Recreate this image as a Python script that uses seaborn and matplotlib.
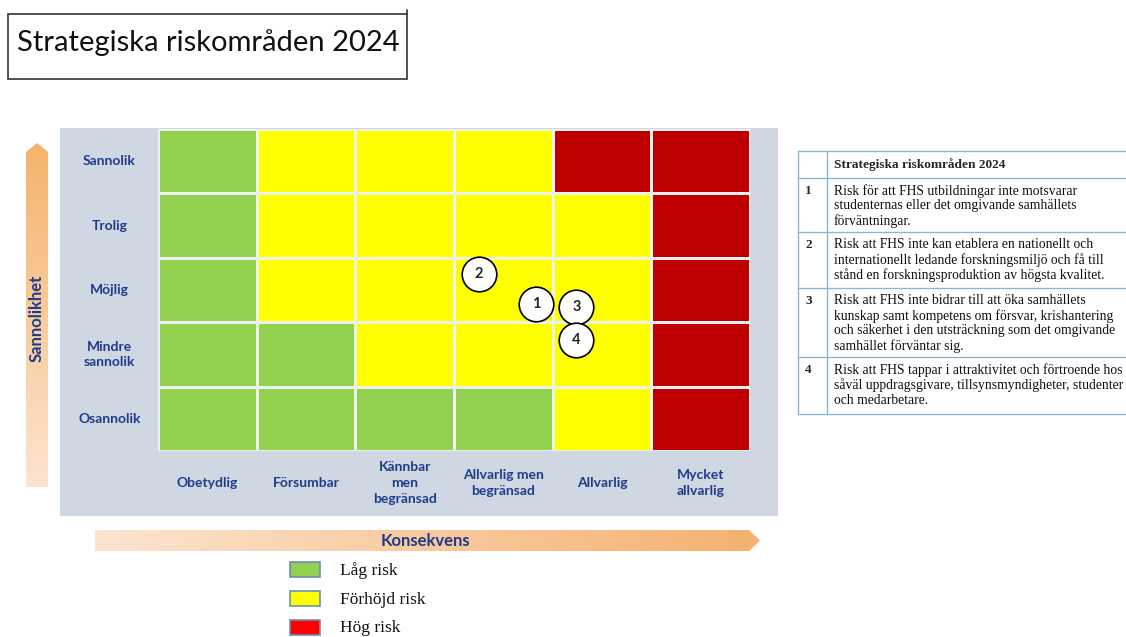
import numpy as np
import pandas as pd
import seaborn as sns
import matplotlib.pyplot as plt
from matplotlib.colors import ListedColormap
from matplotlib.patches import Rectangle, Polygon

# Risk matrix data
likelihood = ["Sannolik", "Trolig", "Möjlig", "Mindre\nsannolik", "Osannolik"]
consequence = ["Obetydlig", "Försumbar", "Kännbar\nmen\nbegränsad",
               "Allvarlig men\nbegränsad", "Allvarlig", "Mycket\nallvarlig"]
# 0 = låg, 1 = förhöjd, 2 = hög
level_rows = [
    [0, 1, 1, 1, 2, 2],
    [0, 1, 1, 1, 1, 2],
    [0, 1, 1, 1, 1, 2],
    [0, 0, 1, 1, 1, 2],
    [0, 0, 0, 0, 1, 2],
]
risk_ids = ["1", "2", "3", "4"]
risk_x = [3.83, 3.25, 4.24, 4.24]   # consequence position (cells)
risk_y = [2.72, 2.25, 2.76, 3.28]   # likelihood position (cells from top)

legend_labels = ["Låg risk", "Förhöjd risk", "Hög risk"]
table_title = "Strategiska riskområden 2024"
table_rows = [
    "Risk för att FHS utbildningar inte motsvarar\nstudenternas eller det omgivande samhällets\nförväntningar.",
    "Risk att FHS inte kan etablera en nationellt och\ninternationellt ledande forskningsmiljö och få till\nstånd en forskningsproduktion av högsta kvalitet.",
    "Risk att FHS inte bidrar till att öka samhällets\nkunskap samt kompetens om försvar, krishantering\noch säkerhet i den utsträckning som det omgivande\nsamhället förväntar sig.",
    "Risk att FHS tappar i attraktivitet och förtroende hos\nsåväl uppdragsgivare, tillsynsmyndigheter, studenter\noch medarbetare.",
]

level_colors = ["#92D050", "#FFFF00", "#C00000"]
legend_colors = ["#92D050", "#FFFF00", "#FF0000"]
navy = "#1F3C8C"
serif = ["Liberation Serif", "DejaVu Serif"]

sns.set_style("white")
plt.rcParams["font.family"] = ["Lato", "DejaVu Sans"]

W, H = 1126, 637
fig = plt.figure(figsize=(W / 100, H / 100), dpi=100)

# background canvas in pixel coordinates
bg = fig.add_axes([0, 0, 1, 1], zorder=0)
bg.set_axis_off()

# title box
bg.add_patch(Rectangle((8, 14), 399, 65, fill=False, ec="#333333", lw=1.2))
bg.plot([407, 407], [10, 14], color="#333333", lw=1.2)
bg.text(17, 42.5, "Strategiska riskområden 2024", fontsize=21, va="center", ha="left",
        color="#111111")

# panel behind matrix
bg.add_patch(Rectangle((60, 128), 718, 388, color="#CED7E2", ec="none"))

# vertical gradient arrow
vgrad = np.linspace(0, 1, 256).reshape(-1, 1)
vcmap = ListedColormap(sns.blend_palette(["#F4B36B", "#FCE4CF"], 256))
im = bg.imshow(vgrad, cmap=vcmap, extent=(26, 48, 487, 143), aspect="auto", zorder=1)
vpoly = Polygon([(26, 487), (26, 152), (37, 143), (48, 152), (48, 487)],
                closed=True, fc="none", ec="none")
bg.add_patch(vpoly)
im.set_clip_path(vpoly)
bg.text(37, 318, "Sannolikhet", rotation=90, ha="center", va="center",
        fontsize=12, fontweight="bold", color=navy, zorder=2)

# horizontal gradient arrow
hgrad = np.linspace(0, 1, 256).reshape(1, -1)
hcmap = ListedColormap(sns.blend_palette(["#FCE4CF", "#F4B16F"], 256))
im2 = bg.imshow(hgrad, cmap=hcmap, extent=(95, 760, 551, 530), aspect="auto", zorder=1)
hpoly = Polygon([(95, 530), (749, 530), (760, 540.5), (749, 551), (95, 551)],
                closed=True, fc="none", ec="none")
bg.add_patch(hpoly)
im2.set_clip_path(hpoly)
bg.text(425, 541, "Konsekvens", ha="center", va="center", fontsize=12,
        fontweight="bold", color=navy, zorder=2)

# legend
for i, (lab, col) in enumerate(zip(legend_labels, legend_colors)):
    y0 = 562 + i * 29
    bg.add_patch(Rectangle((290, y0), 30, 15, fc=col, ec="#6F8FB5", lw=1.2))
    bg.text(340, y0 + 8.5, lab, ha="left", va="center", fontsize=12.5,
            family=serif, color="#111111")

# table on the right
row_edges = [151, 178, 232, 288, 357, 414]
line_col = "#8DB8CC"
for yy in row_edges:
    bg.plot([798, W], [yy, yy], color=line_col, lw=1)
for xx in [798, 827]:
    bg.plot([xx, xx], [row_edges[0], row_edges[-1]], color=line_col, lw=1)
bg.text(834, 165, table_title, ha="left", va="center", fontsize=9.6,
        fontweight="bold", family=serif)
for i, txt in enumerate(table_rows):
    top = row_edges[i + 1]
    bg.text(805, top + 13, risk_ids[i], ha="left", va="center", fontsize=9.6,
            fontweight="bold", family=serif)
    bg.text(834, top + 6, txt, ha="left", va="top", fontsize=9.8, family=serif,
            linespacing=1.17, color="#111111")

bg.set_xlim(0, W)
bg.set_ylim(H, 0)

# risk matrix heatmap
df = pd.DataFrame(level_rows, index=likelihood, columns=consequence)
ax = fig.add_axes([158 / W, 1 - 451 / H, (750 - 158) / W, (451 - 129) / H], zorder=2)
sns.heatmap(df, ax=ax, cmap=ListedColormap(level_colors), vmin=-0.5, vmax=2.5,
            cbar=False, linewidths=1, linecolor="#EEF2EE", square=False)
ax.tick_params(axis="both", length=0)
ax.tick_params(axis="y", pad=35)
ax.tick_params(axis="x", pad=23)
for t in ax.get_yticklabels():
    t.set_rotation(0)
    t.set_ha("center")
    t.set_va("center")
    t.set_fontweight("bold")
    t.set_color(navy)
    t.set_fontsize(10)
    t.set_linespacing(1.3)
for t in ax.get_xticklabels():
    t.set_rotation(0)
    t.set_ha("center")
    t.set_va("center")
    t.set_fontweight("bold")
    t.set_color(navy)
    t.set_fontsize(10)
    t.set_linespacing(1.4)
ax.set_xlabel("")
ax.set_ylabel("")

# risk markers
ax.scatter(risk_x, risk_y, s=620, facecolor="white", edgecolor="black",
           linewidth=1.2, zorder=5, clip_on=False)
for rid, x, y in zip(risk_ids, risk_x, risk_y):
    ax.text(x, y, rid, ha="center", va="center", fontsize=10.5, fontweight="bold",
            zorder=6)

fig.savefig("out.png", dpi=100)
